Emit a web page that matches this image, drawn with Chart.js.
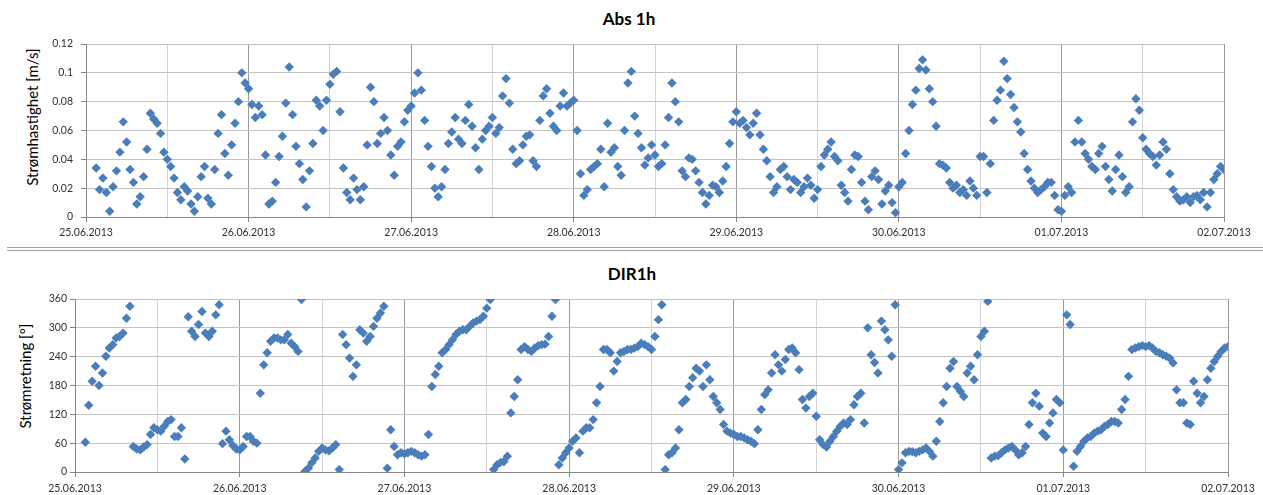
<!DOCTYPE html>
<html>
<head>
<meta charset="utf-8">
<script src="https://cdn.jsdelivr.net/npm/chart.js@4.4.0/dist/chart.umd.min.js"></script>
<style>
body { margin: 0; background: #fff; width: 1263px; height: 495px; overflow: hidden; position: relative; font-family: Lato, sans-serif; }
canvas { position: absolute; left: 0; }
#speedChart { top: 0; }
#dirChart { top: 250px; }
.title { position: absolute; transform: translate(-50%, -50%); font-weight: bold; font-size: 17px; color: #000; white-space: nowrap; }
.ytitle { position: absolute; transform: translate(-50%, -50%) rotate(-90deg); font-size: 15px; color: #000; white-space: nowrap; }
.sep { position: absolute; left: 7px; right: 0; height: 1px; background: #a0a0a0; }
</style>
</head>
<body>
<div class="title" style="left:629px;top:18px">Abs 1h</div>
<div class="ytitle" style="left:32px;top:117px">Strømhastighet [m/s]</div>
<canvas id="speedChart" width="1263" height="245"></canvas>
<div class="sep" style="top:247px"></div>
<div class="sep" style="top:250px"></div>
<div class="title" style="left:632px;top:273px">DIR1h</div>
<div class="ytitle" style="left:25px;top:376px">Strømretning [°]</div>
<canvas id="dirChart" width="1263" height="245"></canvas>

<script>
const dayLabels = ['25.06.2013', '26.06.2013', '27.06.2013', '28.06.2013', '29.06.2013', '30.06.2013', '01.07.2013', '02.07.2013'];
const speedTicks = ['0', '0.02', '0.04', '0.06', '0.08', '0.1', '0.12'];
const dirTicks = ['0', '60', '120', '180', '240', '300', '360'];

// half-hourly readings from 25.06.2013 00:00, one row per day
const speed = [
    null, null, null, 0.034, 0.019, 0.027, 0.017, 0.004, 0.021, 0.032, 0.045, 0.066, 0.052, 0.033, 0.024, 0.009, 0.014, 0.028, 0.047, 0.072, 0.068, 0.065, 0.058, 0.045, 0.040, 0.035, 0.027, 0.017, 0.012, 0.021, 0.018, 0.009, 0.004, 0.014, 0.028, 0.035, 0.013, 0.009, 0.033, 0.058, 0.071, 0.044, 0.029, 0.050, 0.065, 0.080, 0.100, 0.093,
    0.089, 0.078, 0.069, 0.077, 0.071, 0.043, 0.009, 0.011, 0.024, 0.042, 0.056, 0.079, 0.104, 0.071, 0.049, 0.037, 0.026, 0.007, 0.032, 0.051, 0.081, 0.077, 0.060, 0.081, 0.092, 0.099, 0.101, 0.073, 0.034, 0.017, 0.012, 0.027, 0.019, 0.012, 0.021, 0.050, 0.090, 0.080, 0.051, 0.058, 0.069, 0.060, 0.043, 0.029, 0.049, 0.052, 0.066, 0.074,
    0.077, 0.086, 0.100, 0.088, 0.067, 0.049, 0.035, 0.020, 0.014, 0.021, 0.033, 0.051, 0.059, 0.069, 0.054, 0.051, 0.067, 0.078, 0.063, 0.048, 0.033, 0.054, 0.060, 0.063, 0.069, 0.058, 0.062, 0.084, 0.096, 0.079, 0.047, 0.037, 0.039, 0.050, 0.056, 0.057, 0.039, 0.035, 0.067, 0.084, 0.089, 0.072, 0.063, 0.060, 0.077, 0.086, 0.077, 0.079,
    0.081, 0.060, 0.030, 0.015, 0.019, 0.033, 0.035, 0.037, 0.047, 0.021, 0.065, 0.045, 0.048, 0.035, 0.029, 0.060, 0.093, 0.101, 0.070, 0.058, 0.048, 0.036, 0.041, 0.050, 0.043, 0.035, 0.037, 0.050, 0.069, 0.093, 0.080, 0.066, 0.032, 0.028, 0.041, 0.040, 0.032, 0.024, 0.017, 0.009, 0.015, 0.022, 0.021, 0.017, 0.025, 0.035, 0.051, 0.066,
    0.073, 0.065, 0.067, 0.062, 0.057, 0.065, 0.072, 0.057, 0.047, 0.039, 0.028, 0.017, 0.021, 0.033, 0.035, 0.028, 0.019, 0.026, 0.024, 0.017, 0.021, 0.027, 0.022, 0.013, 0.019, 0.035, 0.043, 0.047, 0.052, 0.042, 0.039, 0.022, 0.017, 0.011, 0.033, 0.043, 0.042, 0.024, 0.011, 0.005, 0.028, 0.032, 0.026, 0.009, 0.018, 0.022, 0.010, 0.003,
    0.021, 0.024, 0.044, 0.060, 0.078, 0.088, 0.103, 0.109, 0.102, 0.089, 0.080, 0.063, 0.037, 0.036, 0.034, 0.024, 0.020, 0.022, 0.017, 0.019, 0.015, 0.025, 0.020, 0.015, 0.042, 0.042, 0.017, 0.037, 0.067, 0.081, 0.088, 0.108, 0.096, 0.085, 0.076, 0.066, 0.059, 0.044, 0.033, 0.025, 0.020, 0.017, 0.019, 0.021, 0.024, 0.024, 0.015, 0.005,
    0.004, 0.015, 0.021, 0.017, 0.052, 0.067, 0.052, 0.044, 0.040, 0.035, 0.033, 0.044, 0.049, 0.035, 0.026, 0.018, 0.033, 0.043, 0.028, 0.017, 0.021, 0.066, 0.082, 0.074, 0.055, 0.047, 0.044, 0.042, 0.036, 0.043, 0.052, 0.047, 0.030, 0.019, 0.014, 0.011, 0.012, 0.014, 0.010, 0.014, 0.015, 0.012, 0.017, 0.007, 0.017, 0.026, 0.030, 0.035, 0.033
];

const direction = [
    null, null, null, 62, 139, 189, 220, 180, 206, 241, 258, 265, 279, 282, 289, 320, 345, 53, 48, 46, 52, 57, 78, 92, 88, 85, 95, 105, 109, 74, 74, 92, 27, 323, 293, 282, 307, 334, 289, 282, 293, 327, 348, 59, 85, 67, 55, 48,
    46, 53, 74, 74, 64, 60, 164, 223, 248, 272, 279, 279, 275, 275, 286, 268, 261, 251, 359, 1, 8, 19, 29, 43, 50, 46, 44, 50, 57, 5, 286, 265, 237, 199, 223, 296, 289, 272, 282, 303, 320, 331, 345, 8, 88, 53, 36, 40,
    38, 40, 43, 40, 36, 33, 36, 78, 178, 203, 220, 248, 255, 265, 275, 286, 293, 296, 296, 303, 310, 314, 317, 324, 341, 359, 5, 15, 20, 22, 33, 123, 157, 192, 255, 261, 255, 251, 258, 263, 265, 266, 282, 324, 359, 15, 29, 40,
    50, 64, 71, 40, 85, 92, 92, 109, 144, 178, 255, 255, 248, 210, 230, 248, 251, 255, 255, 258, 261, 268, 265, 261, 255, 282, 317, 348, 5, 36, 40, 50, 88, 144, 151, 178, 196, 216, 210, 178, 223, 192, 157, 144, 130, 99, 85, 81,
    78, 74, 74, 71, 67, 64, 59, 88, 130, 161, 171, 206, 244, 223, 210, 234, 255, 258, 248, 213, 151, 133, 157, 164, 116, 67, 57, 52, 64, 74, 85, 95, 102, 99, 109, 140, 157, 164, 102, 300, 244, 228, 206, 314, 296, 275, 241, 348,
    5, 19, 40, 43, 42, 40, 43, 46, 50, 43, 33, 64, 105, 144, 178, 216, 230, 178, 168, 157, 206, 220, 192, 244, 282, 293, 355, 29, 33, 34, 40, 46, 50, 53, 46, 36, 40, 53, 99, 144, 164, 137, 81, 74, 102, 123, 151, 144,
    46, 327, 307, 12, 43, 53, 64, 71, 74, 81, 85, 88, 95, 99, 105, 105, 102, 130, 151, 199, 255, 258, 261, 263, 261, 263, 258, 251, 248, 244, 241, 237, 227, 171, 144, 144, 102, 99, 189, 164, 144, 157, 192, 216, 230, 241, 251, 258, 261
];

const markerColor = '#4A7EBB';
const tickFont = { family: 'Lato', size: 10.5 };

function toPoints(values) {
    // x in hours after 25.06.2013 00:00
    return values.map((v, i) => ({ x: i * 0.5, y: v }));
}

function isDay(ctx) {
    return ctx.tick && ctx.tick.value % 24 === 0;
}

function createChart(id, values, yMax, yStep, yLabels, box) {
    const ctx = document.getElementById(id).getContext('2d');
    return new Chart(ctx, {
        type: 'scatter',
        data: {
            datasets: [{
                data: toPoints(values),
                pointStyle: 'rectRot',
                pointRadius: 4.7,
                backgroundColor: markerColor,
                borderColor: markerColor,
                borderWidth: 0
            }]
        },
        options: {
            responsive: false,
            animation: false,
            devicePixelRatio: 1,
            layout: { padding: { top: box.top, right: box.right, left: 0, bottom: 0 } },
            plugins: { legend: { display: false }, tooltip: { enabled: false } },
            scales: {
                x: {
                    type: 'linear',
                    min: 0,
                    max: 168,
                    ticks: {
                        stepSize: 12,
                        autoSkip: false,
                        maxRotation: 0,
                        padding: box.xPad,
                        font: tickFont,
                        color: '#303030',
                        callback: v => (v % 24 === 0 ? dayLabels[v / 24] : '')
                    },
                    grid: {
                        color: ctx => (isDay(ctx) ? '#9a9a9a' : '#d4d4d4'),
                        tickColor: ctx => (isDay(ctx) ? '#868686' : 'rgba(0,0,0,0)'),
                        tickLength: 5
                    },
                    border: { color: '#868686' },
                    afterFit: s => { s.height = box.xHeight; }
                },
                y: {
                    min: 0,
                    max: yMax,
                    ticks: {
                        stepSize: yStep,
                        padding: box.yPad,
                        font: tickFont,
                        color: '#303030',
                        callback: v => yLabels[Math.round(v / yStep)]
                    },
                    grid: { color: '#c4c4c4', tickColor: '#868686', tickLength: 5 },
                    border: { color: '#868686' },
                    afterFit: s => { s.width = box.left; }
                }
            }
        }
    });
}

window.onload = function () {
    createChart('speedChart', speed, 0.12, 0.02, speedTicks,
        { top: 44, right: 39, left: 86, xHeight: 28, xPad: 4, yPad: 8 });
    createChart('dirChart', direction, 360, 60, dirTicks,
        { top: 49, right: 35, left: 75, xHeight: 23, xPad: 5, yPad: 3 });
};
</script>
</body>
</html>
